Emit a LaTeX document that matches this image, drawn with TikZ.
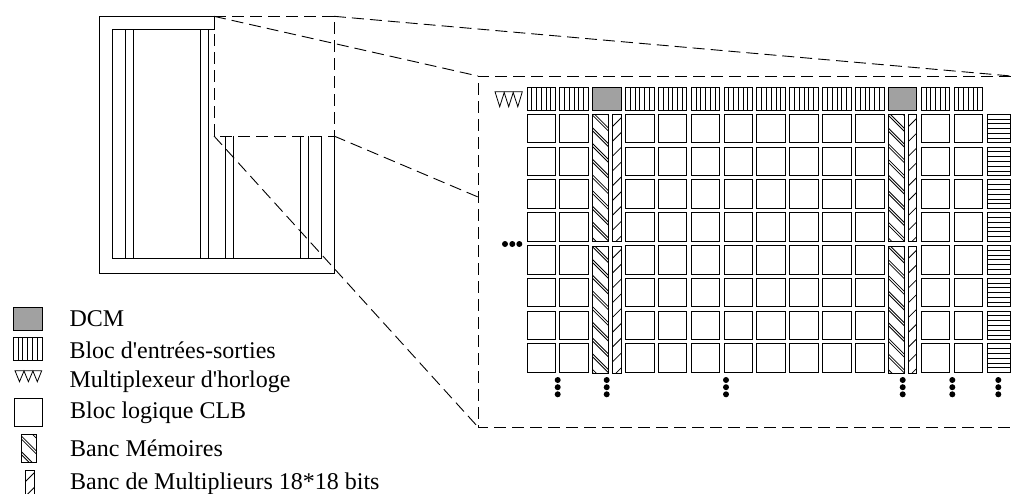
\documentclass[tikz,border=0pt]{standalone}
\usepackage{fontspec}
\setmainfont{Liberation Serif}[Ligatures=TeXOff]
\usetikzlibrary{calc}
\definecolor{dcmgray}{gray}{0.63}
\newcommand{\ppb}{path picture bounding box}
\tikzset{
  ln/.style={line width=1pt,draw=black},
  dsh/.style={line width=.9pt,dash pattern=on 12pt off 6pt},
  thinhatch/.style={line width=.8pt},
  box/.style={ln,inner sep=0pt,outer sep=0pt,anchor=north west,rectangle},
  clb/.style={box,minimum width=28.5pt,minimum height=28.6pt},
  dcm/.style={box,fill=dcmgray,minimum width=28.5pt,minimum height=23pt},
  iob/.style={box,minimum width=28.5pt,minimum height=23pt,path picture={
    \foreach \f in {1,...,5}
      \draw[thinhatch] ($(\ppb.north west)!\f/6!(\ppb.north east)$) -- ($(\ppb.south west)!\f/6!(\ppb.south east)$);}},
  hio/.style={box,minimum width=23pt,minimum height=28.6pt,path picture={
    \foreach \f in {1,...,5}
      \draw[thinhatch] ($(\ppb.north west)!\f/6!(\ppb.south west)$) -- ($(\ppb.north east)!\f/6!(\ppb.south east)$);}},
  mem/.style={box,minimum width=15.7pt,path picture={
    \foreach \k in {-1,...,9}{
      \draw[thinhatch] ([yshift={-(\k*15.7pt+#1)}]\ppb.north west) -- ++(24pt,-24pt);
      \draw[thinhatch] ([yshift={-(\k*15.7pt+#1+3pt)}]\ppb.north west) -- ++(24pt,-24pt);}}},
  mul/.style={box,path picture={
    \foreach \k in {-1,...,9}
      \draw[thinhatch] ([yshift={-(\k*14.8pt+#1)}]\ppb.north west) -- ++(16pt,16pt);}},
  leg/.style={anchor=base west,inner sep=0pt,font=\fontsize{24pt}{26pt}\selectfont},
  dot/.style={fill=black},
  muxp/.style={line width=.8pt,line join=miter},
}
\begin{document}
\begin{tikzpicture}[x=1pt,y=-1pt]
\useasboundingbox (0,0) rectangle (1011,493);

% chip outline
\coordinate (ztl) at (214,16.3);
\coordinate (ztr) at (334,16.3);
\coordinate (zbl) at (214,136);
\coordinate (zbr) at (334,136);
\coordinate (ftl) at (478,76);
\coordinate (ftr) at (1011,76);
\coordinate (fbl) at (478,427);
\coordinate (fbr) at (1011,427);
\coordinate (fml) at (478,197);

\draw[ln,line join=miter] (ztl) -- (99.3,16.3) -- (99.3,273.3) -- (334,273.3) -- (zbr);
\draw[ln] (ztl) -- (214,29.3) -- (112.3,29.3) -- (112.3,258.3) -- (321.3,258.3) -- (321.3,136);
\foreach \x in {125,133.7,200,208.7} \draw[ln] (\x,29.3) -- (\x,258.3);
\foreach \x in {225,233.7,300,308.7} \draw[ln] (\x,136) -- (\x,258.3);

% zoomed region on the chip
\draw[dsh] (ztl) -- (ztr) -- (zbr) -- (zbl) -- cycle;

% zoom lines
\draw[dsh] (ztl) -- (ftl);
\draw[dsh] (ztr) -- (ftr);
\draw[dsh] (zbr) -- (fml);
\draw[dsh] (zbl) -- (fbl);

% frame
\draw[dsh] (ftr) -- (ftl) -- (fbl) -- (fbr);

% top row
\foreach \i in {0,1,3,4,5,6,7,8,9,10,12,13}
  \node[iob] (io-\i) at (527+32.85*\i,87.3) {};
\node[dcm] (dcm-a) at (592.7,87.3) {};
\node[dcm] (dcm-b) at (888.3,87.3) {};

% clock mux
\draw[muxp] (495,91.7) -- (522.3,91.7) -- (517.8,106.7) -- (513.2,92.5) -- (508.7,106.7) -- (504.2,92.5) -- (499.7,106.7) -- cycle;

% grid
\foreach \r in {0,...,7}{
  \foreach \i in {0,1,3,4,5,6,7,8,9,10,12,13}
    \node[clb] (clb-\r-\i) at (527+32.85*\i,114.3+32.8*\r) {};
  \node[hio] (hio-\r) at (987,114.3+32.8*\r) {};
}

% memory and multiplier columns
\foreach \n/\y in {a/114.3,b/246}{
  \node[mem=-2pt,minimum height=127pt] (mema-\n) at (592.7,\y) {};
  \node[mul=12.4pt,minimum width=9.4pt,minimum height=127pt] (mula-\n) at (612.3,\y) {};
  \node[mem=-2pt,minimum height=127pt] (memb-\n) at (888.3,\y) {};
  \node[mul=12.4pt,minimum width=8.5pt,minimum height=127pt] (mulb-\n) at (908.3,\y) {};
}

% dots
\foreach \x in {505,512.3,519.3} \fill[dot] (\x,244) circle (3pt);
\foreach \x in {557.7,606.7,726,902.7,952.3,998.3}
  \foreach \y in {380,387.2,394.3} \fill[dot] (\x,\y) circle (3pt);

% legend
\node[dcm,minimum width=28.7pt,minimum height=22.7pt] (ldcm) at (13.3,307.3) {};
\node[iob,minimum width=28.7pt,minimum height=23pt] (lio) at (13.3,337.7) {};
\draw[muxp] (15,370.7) -- (41.7,370.7) -- (37.3,381.7) -- (32.9,371) -- (28.4,381.7) -- (24,371) -- (19.5,381.7) -- cycle;
\node[clb,minimum width=28pt,minimum height=28.4pt] (lclb) at (14.7,398.3) {};
\node[mem=1pt,minimum height=27.6pt] (lmem) at (21,434.6) {};
\node[mul=12pt,minimum width=9.3pt,minimum height=28pt] (lmul) at (25,470) {};

\node[leg] (t1) at (69.3,326.7) {DCM};
\node[leg] (t2) at (69.3,358) {Bloc d'entrées-sorties};
\node[leg] (t3) at (69.3,387) {Multiplexeur d'horloge};
\node[leg] (t4) at (70,418) {Bloc logique CLB};
\node[leg] (t5) at (70,456) {Banc Mémoires};
\node[leg] (t6) at (70,489.3) {Banc de Multiplieurs 18*18 bits};
\end{tikzpicture}
\end{document}
